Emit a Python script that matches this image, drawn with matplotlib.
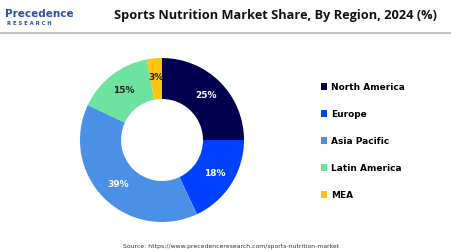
import numpy as np
import matplotlib.pyplot as plt
from matplotlib.lines import Line2D
from matplotlib.patches import Patch

regions = ["North America", "Europe", "Asia Pacific", "Latin America", "MEA"]
shares = [25, 18, 39, 15, 3]
colors = ["#00004f", "#0041ff", "#4a90e6", "#6ee3a0", "#ffc20e"]
label_colors = ["white", "white", "white", "#222222", "#222222"]

fig = plt.figure(figsize=(4.52, 2.52), dpi=100)
fig.patch.set_facecolor("white")

# header
fig.text(0.012, 0.945, "Precedence", fontsize=7.5, fontweight="bold", color="#2a4fa0",
         ha="left", va="center")
fig.text(0.016, 0.905, "R E S E A R C H", fontsize=3.8, fontweight="bold", color="#2a4fa0",
         ha="left", va="center")
fig.text(0.61, 0.94, "Sports Nutrition Market Share, By Region, 2024 (%)", fontsize=9.2,
         fontweight="bold", color="#111111", ha="center", va="center", family="Open Sans")
fig.add_artist(Line2D([0, 1], [0.868, 0.868], color="#b8b8c4", linewidth=1.2,
                      transform=fig.transFigure))

# donut
ax = fig.add_axes([80 / 452, 30 / 252, 164 / 452, 164 / 252])
wedges, _ = ax.pie(shares, colors=colors, startangle=90, counterclock=False,
                   wedgeprops=dict(width=0.5, edgecolor="none"))
ax.set_xlim(-1, 1)
ax.set_ylim(-1, 1)
ax.set_aspect("equal")
for w, val, tc in zip(wedges, shares, label_colors):
    ang = np.deg2rad((w.theta1 + w.theta2) / 2)
    r = 0.76
    ax.text(r * np.cos(ang), r * np.sin(ang), f"{val}%", ha="center", va="center",
            fontsize=6.5, fontweight="bold", color=tc)

# legend
handles = [Patch(facecolor=c, edgecolor="none") for c in colors]
fig.legend(handles, regions, loc="center left", bbox_to_anchor=(0.692, 0.44), frameon=False,
           handlelength=0.7, handleheight=0.7, handletextpad=0.4,
           labelspacing=2.0, prop=dict(weight="bold", size=6.5))

fig.text(0.512, 0.02, "Source: https://www.precedenceresearch.com/sports-nutrition-market",
         fontsize=4.4, color="#333333", ha="center", va="center")

fig.savefig("out.png", dpi=100)
